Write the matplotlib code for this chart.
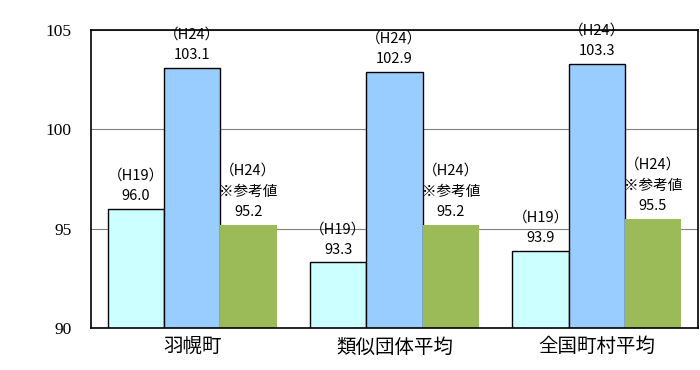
import numpy as np
import matplotlib.pyplot as plt

plt.rcParams['font.family'] = ['Noto Sans CJK JP', 'DejaVu Sans']

categories = ['羽幌町', '類似団体平均', '全国町村平均']
h19 = [96.0, 93.3, 93.9]
h24 = [103.1, 102.9, 103.3]
h24_ref = [95.2, 95.2, 95.5]

lbl_h19 = '（H19）'
lbl_h24 = '（H24）'
lbl_ref = '（H24）\n※参考値'

fig = plt.figure(figsize=(7, 3.7), dpi=100)
ax = fig.add_axes([0.13, 0.1135, 0.867, 0.8055])

x = np.arange(len(categories))
w = 0.278

b1 = ax.bar(x - w, h19, w, color='#CCFFFF', edgecolor='black', linewidth=1, zorder=3)
b2 = ax.bar(x, h24, w, color='#99CCFF', edgecolor='black', linewidth=1, zorder=3)
b3 = ax.bar(x + w, h24_ref, w, color='#9BBB59', edgecolor='none', zorder=3)

def put_labels(bars, vals, head):
    for b, v in zip(bars, vals):
        ax.annotate(head + '\n' + f'{v:.1f}', (b.get_x() + b.get_width() / 2, v),
                    xytext=(0, 4), textcoords='offset points', ha='center', va='bottom',
                    fontsize=10.5, linespacing=1.6, zorder=5, annotation_clip=False)

put_labels(b1, h19, lbl_h19)
put_labels(b2, h24, lbl_h24)
put_labels(b3, h24_ref, lbl_ref)

ax.set_ylim(90, 105)
ax.set_xlim(-0.5, 2.5)
ax.set_yticks([90, 95, 100, 105])
ax.set_yticklabels(['90', '95', '100', '105'], family='Liberation Serif', fontsize=12.5)
ax.set_xticks(x)
ax.set_xticklabels(categories, fontsize=14)
ax.tick_params(axis='both', length=0)
ax.tick_params(axis='y', pad=14)
ax.tick_params(axis='x', pad=6)
ax.grid(axis='y', color='#808080', linewidth=0.8, zorder=1)
for s in ax.spines.values():
    s.set_linewidth(1.2)
    s.set_zorder(4)

fig.savefig('out.png', dpi=100)
